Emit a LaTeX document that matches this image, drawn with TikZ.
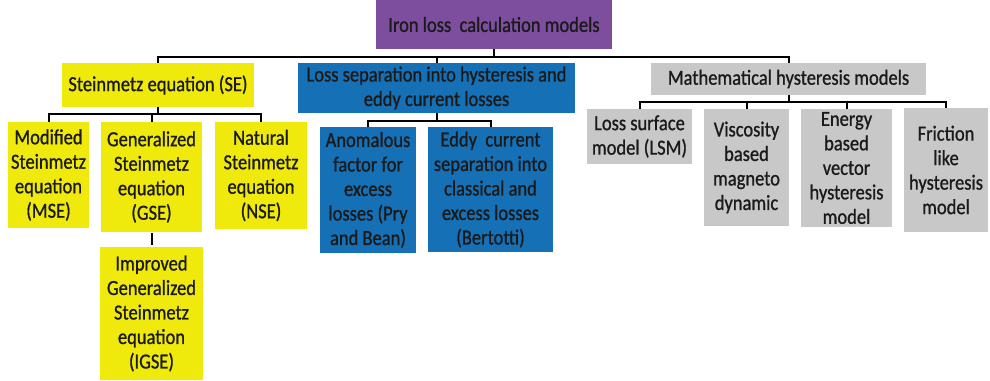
\documentclass[tikz,border=0pt]{standalone}
\usepackage{fontspec}
\setmainfont{Carlito}
\newfontfamily\boxfont{Carlito}[FakeBold=0.9, FakeStretch=0.86]
\definecolor{rootpurple}{HTML}{7E4E9E}
\definecolor{seyellow}{HTML}{F0EA0C}
\definecolor{sepblue}{HTML}{1670B6}
\definecolor{mathgray}{HTML}{C8C8C8}
\definecolor{ink}{HTML}{1A1A1A}
\begin{document}
\begin{tikzpicture}[x=1pt,y=-1pt,
  box/.style={rectangle, fill=#1, inner sep=0pt, align=center, text=ink,
    font=\boxfont\fontsize{21.5}{24.5}\selectfont},
  link/.style={draw=black, line width=2pt, line join=miter}]
\useasboundingbox (0,0) rectangle (990,380);

% root
\node[box=rootpurple, minimum width=236pt, minimum height=49pt] (root) at (494,24.5) {Iron loss\ \ calculation models};

% first level
\node[box=seyellow, minimum width=192pt, minimum height=44pt] (se) at (158,85) {Steinmetz equation (SE)};
\node[box=sepblue, minimum width=277pt, minimum height=50pt] (sep) at (436.5,88) {Loss separation into hysteresis and\\eddy current losses};
\node[box=mathgray, minimum width=275pt, minimum height=32pt] (math) at (788.5,79) {Mathematical hysteresis models};

% Steinmetz family
\node[box=seyellow, minimum width=81pt, minimum height=106pt] (mse) at (48.5,175) {Modified\\Steinmetz\\equation\\(MSE)};
\node[box=seyellow, minimum width=101pt, minimum height=110pt] (gse) at (151.5,177) {Generalized\\Steinmetz\\equation\\(GSE)};
\node[box=seyellow, minimum width=92pt, minimum height=107pt] (nse) at (261,175.5) {Natural\\Steinmetz\\equation\\(NSE)};
\node[box=seyellow, minimum width=103pt, minimum height=133pt] (igse) at (151.5,313.5) {Improved\\Generalized\\Steinmetz\\equation\\(IGSE)};

% loss separation family
\node[box=sepblue, minimum width=96pt, minimum height=126pt] (anom) at (368,190) {Anomalous\\factor for\\excess\\losses (Pry\\and Bean)};
\node[box=sepblue, minimum width=125pt, minimum height=125pt] (eddy) at (490.5,189.5) {Eddy\ \ current\\separation into\\classical and\\excess losses\\(Bertotti)};

% hysteresis model family
\node[box=mathgray, minimum width=105pt, minimum height=55pt] (lsm) at (639.5,136.5) {Loss surface\\model (LSM)};
\node[box=mathgray, minimum width=85pt, minimum height=117pt] (visc) at (746.5,167.5) {Viscosity\\based\\magneto\\dynamic};
\node[box=mathgray, minimum width=91pt, minimum height=118pt] (energy) at (846.5,168) {Energy\\based\\vector\\hysteresis\\model};
\node[box=mathgray, minimum width=84pt, minimum height=124pt] (fric) at (946,170) {Friction\\like\\hysteresis\\model};

% bus levels
\coordinate (b0) at (0,57);
\coordinate (b1) at (0,114);
\coordinate (b2) at (0,121);
\coordinate (b3) at (0,102);

% root to first level
\draw[link] (root.south) -- (root.south |- b0);
\draw[link] (se.north) -- (se.north |- b0) -| (math.north);
\draw[link] (sep.north) -- (sep.north |- b0);

% Steinmetz branch
\draw[link] (se.south) -- (se.south |- b1);
\draw[link] (mse.north) -- (mse.north |- b1) -| (nse.north);
\draw[link] (gse.north) -- (gse.north |- b1);
\draw[link, shorten <=1pt, shorten >=2pt] (gse.south) -- (igse.north);

% loss separation branch
\draw[link] (sep.south) -- (sep.south |- b2);
\draw[link] (anom.north) -- (anom.north |- b2) -| (eddy.north);

% hysteresis model branch
\draw[link] (math.south) -- (math.south |- b3);
\draw[link] (lsm.north) -- (lsm.north |- b3) -| (fric.north);
\draw[link] (visc.north) -- (visc.north |- b3);
\draw[link] (energy.north) -- (energy.north |- b3);
\end{tikzpicture}
\end{document}
